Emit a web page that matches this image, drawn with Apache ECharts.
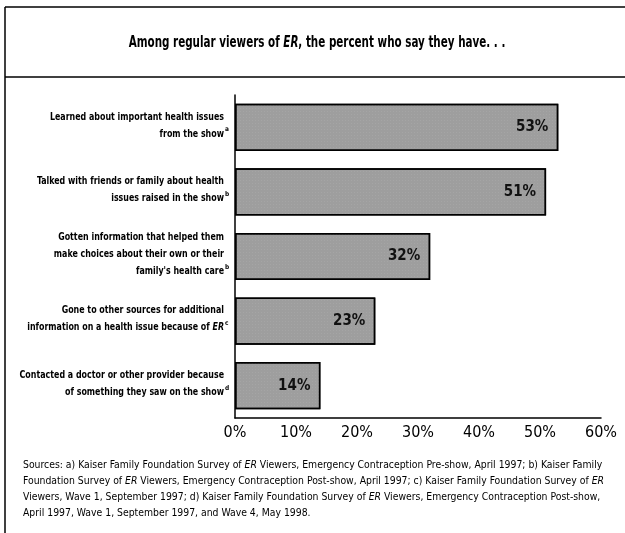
<!DOCTYPE html>
<html><head><meta charset="utf-8">
<script src="https://cdn.jsdelivr.net/npm/echarts@6/dist/echarts.min.js"></script>
<style>html,body{margin:0;padding:0;background:#fff}#c{width:625px;height:533px}</style>
</head><body><div id="c"></div>
<script>
const categories = [
  "Learned about important health issues\nfrom the show",
  "Talked with friends or family about health\nissues raised in the show",
  "Gotten information that helped them\nmake choices about their own or their\nfamily's health care",
  "Gone to other sources for additional\ninformation on a health issue because of ER",
  "Contacted a doctor or other provider because\nof something they saw on the show"
];
const notes = ["a", "b", "b", "c", "d"];
const values = [53, 51, 32, 23, 14];
const tickMin = 0, tickMax = 60, tickStep = 10;
const titleText = "Among regular viewers of ER, the percent who say they have. . .";
const sourceLines = [
  "Sources: a) Kaiser Family Foundation Survey of ER Viewers, Emergency Contraception Pre-show, April 1997; b) Kaiser Family",
  "Foundation Survey of ER Viewers, Emergency Contraception Post-show, April 1997; c) Kaiser Family Foundation Survey of ER",
  "Viewers, Wave 1, September 1997; d) Kaiser Family Foundation Survey of ER Viewers, Emergency Contraception Post-show,",
  "April 1997, Wave 1, September 1997, and Wave 4, May 1998."
];

const FONT = '"DejaVu Sans Condensed","Liberation Sans Narrow",sans-serif';
const LH = 17;

function richER(line, base, ital) {
  return line.split('ER').map(p => p ? '{' + base + '|' + p + '}' : '').join('{' + ital + '|ER}');
}

const frame = [
  {type: 'line', shape: {x1: 5, y1: 7, x2: 625, y2: 7}, style: {stroke: '#000', lineWidth: 1.5}},
  {type: 'line', shape: {x1: 5, y1: 77, x2: 625, y2: 77}, style: {stroke: '#000', lineWidth: 1.5}},
  {type: 'line', shape: {x1: 5, y1: 7, x2: 5, y2: 533}, style: {stroke: '#000', lineWidth: 1.5}},
  {type: 'text', x: 317, y: 43, scaleX: 0.72, style: {
    text: richER(titleText, 't', 'ti'), align: 'center', verticalAlign: 'middle',
    rich: {
      t: {fontFamily: FONT, fontWeight: 'bold', fontSize: 16, fill: '#000'},
      ti: {fontFamily: FONT, fontWeight: 'bold', fontStyle: 'italic', fontSize: 16, fill: '#000'}
    }}},
  {type: 'text', x: 23, y: 457, scaleX: 0.94, style: {
    text: sourceLines.map(l => richER(l, 'r', 'ri')).join('\n'), align: 'left', verticalAlign: 'top',
    rich: {
      r: {fontFamily: FONT, fontSize: 11, fill: '#000', lineHeight: 16},
      ri: {fontFamily: FONT, fontStyle: 'italic', fontSize: 11, fill: '#000', lineHeight: 16}
    }}}
];

const chart = echarts.init(document.getElementById('c'), null, {renderer: 'canvas'});
chart.setOption({
  animation: false,
  backgroundColor: '#fff',
  grid: {left: 235, right: 24, top: 95, bottom: 115, containLabel: false, outerBoundsMode: 'none'},
  xAxis: {
    type: 'value', min: tickMin, max: tickMax, interval: tickStep,
    axisLine: {show: true, lineStyle: {color: '#000', width: 1.5}},
    axisTick: {show: false},
    splitLine: {show: false},
    axisLabel: {formatter: '{value}%', color: '#000', fontSize: 16, fontFamily: FONT, margin: 7}
  },
  yAxis: {
    type: 'category', inverse: true, data: categories,
    axisLine: {show: true, lineStyle: {color: '#000', width: 1.5}},
    axisTick: {show: false},
    axisLabel: {show: false}
  },
  series: [{
    type: 'bar', data: values, barCategoryGap: '27%',
    itemStyle: {color: '#9e9e9e', borderColor: '#000', borderWidth: 1.5,
      decal: {symbol: 'rect', symbolSize: 0.5, dashArrayX: [1, 2], dashArrayY: [1, 2], color: 'rgba(255,255,255,0.3)', rotation: 0}},
    label: {show: true, position: 'insideRight', distance: 10, formatter: '{c}%',
      fontFamily: FONT, fontWeight: 'bold', fontSize: 15, color: '#111'}
  }],
  graphic: frame
});

// category labels, positioned from the category axis scale
const labelEls = [];
categories.forEach((cat, i) => {
  const cy = chart.convertToPixel({yAxisIndex: 0}, i) - 2;
  const lines = cat.split('\n');
  const n = lines.length;
  labelEls.push({type: 'text', x: 224, y: cy, scaleX: 0.8, style: {
    text: lines.map(l => richER(l, 'n', 'i')).join('\n'), align: 'right', verticalAlign: 'middle',
    rich: {
      n: {fontFamily: FONT, fontWeight: 'bold', fontSize: 11, fill: '#000', lineHeight: LH},
      i: {fontFamily: FONT, fontWeight: 'bold', fontStyle: 'italic', fontSize: 11, fill: '#000', lineHeight: LH}
    }}});
  labelEls.push({type: 'text', x: 225, y: cy + (n - 1) / 2 * LH - 4, style: {
    text: notes[i], align: 'left', verticalAlign: 'middle',
    fontFamily: FONT, fontWeight: 'bold', fontSize: 6.5, fill: '#000'}});
});
chart.setOption({graphic: frame.concat(labelEls)});
</script></body></html>
